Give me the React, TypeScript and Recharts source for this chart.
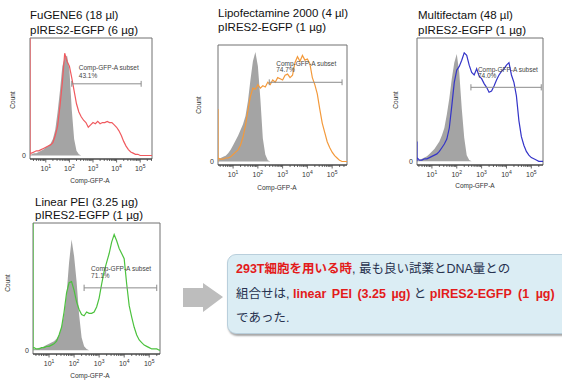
import React from "react";
import {
  ComposedChart,
  Area,
  Line,
  XAxis,
  YAxis,
  ReferenceLine,
  ReferenceArea,
} from "recharts";

// log10(Comp-GFP-A) positions shared by every histogram
const GRID = [
  0.4, 0.5, 0.6, 0.7, 0.8, 0.9, 1.0, 1.1, 1.2, 1.3, 1.4, 1.5, 1.6, 1.7, 1.8, 1.9, 2.0, 2.1,
  2.2, 2.3, 2.4, 2.5, 2.6, 2.7, 2.8, 2.9, 3.0, 3.1, 3.2, 3.3, 3.4, 3.5, 3.6, 3.7, 3.8, 3.9,
  4.0, 4.1, 4.2, 4.3, 4.4, 4.5, 4.6, 4.7, 4.8, 4.9, 5.0, 5.1, 5.2, 5.3, 5.4, 5.5, 5.6,
];
const MAJOR_TICKS = [1, 2, 3, 4, 5];
const MINOR_STEPS = [2, 3, 4, 5, 6, 7, 8, 9];

// FuGENE6
const FUGENE_CONTROL = [
  1, 2, 2, 3, 4, 5, 7, 8, 10, 14, 22, 37, 55, 76, 83, 85, 73, 39, 14, 4, 1, 0, 0, 0, 0, 0, 0,
  0, 0, 0, 0, 0, 0, 0, 0, 0, 0, 0, 0, 0, 0, 0, 0, 0, 0, 0, 0, 0, 0, 0, 0, 0, 0,
];
const FUGENE_SAMPLE = [
  2, 3, 4, 4, 5, 6, 7, 8, 9, 11, 17, 25, 42, 62, 87, 80, 76, 66, 55, 44, 37, 33, 30, 28, 24,
  26, 28, 27, 29, 27, 28, 28, 29, 28, 28, 26, 24, 21, 17, 12, 8, 5, 3, 2, 1, 1, 0, 0, 0, 0, 0,
  0, 0,
];

// Lipofectamine 2000
const LIPO_CONTROL = [
  2, 3, 4, 5, 7, 10, 14, 18, 22, 27, 32, 39, 52, 70, 86, 94, 82, 54, 20, 6, 1, 0, 0, 0, 0, 0,
  0, 0, 0, 0, 0, 0, 0, 0, 0, 0, 0, 0, 0, 0, 0, 0, 0, 0, 0, 0, 0, 0, 0, 0, 0, 0, 0,
];
const LIPO_SAMPLE = [
  3, 2, 2, 3, 3, 4, 6, 8, 10, 14, 21, 31, 44, 56, 63, 62, 66, 63, 65, 64, 68, 66, 70, 68, 72,
  71, 70, 74, 75, 72, 74, 85, 90, 86, 91, 87, 88, 84, 72, 66, 58, 45, 33, 25, 17, 12, 8, 5, 3,
  1, 0, 0, 0,
];

// Multifectam
const MULTI_CONTROL = [
  1, 1, 2, 3, 4, 6, 8, 10, 13, 16, 21, 27, 38, 51, 67, 80, 87, 72, 43, 19, 5, 1, 0, 0, 0, 0,
  0, 0, 0, 0, 0, 0, 0, 0, 0, 0, 0, 0, 0, 0, 0, 0, 0, 0, 0, 0, 0, 0, 0, 0, 0, 0, 0,
];
const MULTI_SAMPLE = [
  3, 1, 1, 2, 2, 3, 4, 5, 6, 8, 11, 14, 18, 27, 45, 64, 74, 77, 82, 88, 86, 78, 72, 70, 75, 69,
  67, 63, 60, 56, 57, 61, 66, 70, 73, 75, 78, 80, 70, 64, 53, 33, 20, 13, 8, 5, 3, 2, 1, 0, 0,
  0, 0,
];

// Linear PEI
const PEI_CONTROL = [
  1, 1, 2, 2, 3, 4, 5, 6, 7, 9, 12, 18, 28, 44, 69, 87, 74, 54, 28, 10, 3, 1, 0, 0, 0, 0, 0,
  0, 0, 0, 0, 0, 0, 0, 0, 0, 0, 0, 0, 0, 0, 0, 0, 0, 0, 0, 0, 0, 0, 0, 0, 0, 0,
];
const PEI_SAMPLE = [
  2, 1, 1, 2, 2, 3, 3, 4, 5, 7, 12, 18, 30, 45, 53, 54, 47, 38, 32, 28, 27, 30, 29, 29, 30,
  34, 41, 52, 62, 69, 76, 85, 91, 86, 80, 76, 72, 52, 35, 26, 18, 12, 8, 6, 4, 3, 2, 1, 1, 1,
  0, 0, 0,
];

const Y_DOMAIN: [number, number] = [-3, 100];

interface Gate {
  x1: number;
  x2: number;
  y: number;
  pct: string;
  dy1: number;
  dy2: number;
}

interface PanelProps {
  titles: string[];
  titlePos: { left: number; top: number; lh: number };
  frame: { left: number; top: number; width: number; height: number };
  domain: [number, number];
  control: number[];
  sample: number[];
  spike: number;
  color: string;
  gate: Gate;
  countPos: { x: number; y: number };
  xLabelPos: { x: number; y: number };
}

function LogTick(props: any) {
  const { x, y, payload } = props;
  const v = payload.value;
  const major = Number.isInteger(v);
  return (
    <g>
      <line x1={x} x2={x} y1={y} y2={y + (major ? 3.5 : 2)} stroke="#444" strokeWidth={0.8} />
      {major && (
        <text x={x} y={y + 12} textAnchor="middle" fontSize={7} fill="#333">
          10
          <tspan dy={-3.5} fontSize={5}>
            {v}
          </tspan>
        </text>
      )}
    </g>
  );
}

function Histogram(p: PanelProps) {
  const { frame, domain, gate } = p;
  const data = [
    { x: domain[0], control: 0, sample: 0 },
    { x: domain[0], control: 0, sample: p.spike },
    { x: domain[0], control: 0, sample: p.sample[0] },
    ...GRID.map((x, i) => ({ x, control: p.control[i], sample: p.sample[i] })),
  ];

  const minor: number[] = [];
  [0, 1, 2, 3, 4, 5].forEach((d) =>
    MINOR_STEPS.forEach((k) => minor.push(d + Math.log10(k)))
  );
  const ticks = [...MAJOR_TICKS, ...minor].filter((t) => t > domain[0] && t < domain[1]);

  const gateLabel = (lp: any) => {
    const vb = lp.viewBox;
    return (
      <g fontSize={6.5} fill="#444">
        <text x={vb.x + 7} y={vb.y + gate.dy1}>
          Comp-GFP-A subset
        </text>
        <text x={vb.x + 7} y={vb.y + gate.dy2}>
          {gate.pct}
        </text>
      </g>
    );
  };

  return (
    <>
      {p.titles.map((t, i) => (
        <div
          key={t}
          style={{
            position: "absolute",
            left: p.titlePos.left,
            top: p.titlePos.top + i * p.titlePos.lh,
            fontSize: 11.5,
            lineHeight: `${p.titlePos.lh}px`,
            whiteSpace: "nowrap",
            color: "#111",
          }}
        >
          {t}
        </div>
      ))}
      <div
        style={{
          position: "absolute",
          left: p.countPos.x,
          top: p.countPos.y,
          fontSize: 6.5,
          color: "#333",
          transform: "translate(-50%, -50%) rotate(-90deg)",
        }}
      >
        Count
      </div>
      <div
        style={{
          position: "absolute",
          left: p.xLabelPos.x,
          top: p.xLabelPos.y,
          fontSize: 6.5,
          color: "#333",
          whiteSpace: "nowrap",
          transform: "translate(-50%, -50%)",
        }}
      >
        Comp-GFP-A
      </div>
      <div style={{ position: "absolute", left: frame.left - 30, top: frame.top - 4 }}>
        <ComposedChart
          width={frame.width + 34}
          height={frame.height + 24}
          data={data}
          margin={{ top: 4, right: 4, bottom: 0, left: 0 }}
        >
          <ReferenceArea
            x1={domain[0]}
            x2={domain[1]}
            y1={Y_DOMAIN[0]}
            y2={Y_DOMAIN[1]}
            fill="none"
            stroke="#707070"
            strokeWidth={1}
            fillOpacity={0}
          />
          <XAxis
            type="number"
            dataKey="x"
            domain={domain}
            allowDataOverflow
            ticks={ticks}
            interval={0}
            tick={(tp: any) => <LogTick {...tp} />}
            tickLine={false}
            tickSize={0}
            tickMargin={0}
            height={20}
            axisLine={{ stroke: "#333" }}
          />
          <YAxis
            type="number"
            domain={Y_DOMAIN}
            allowDataOverflow
            ticks={[0]}
            width={30}
            tickLine={false}
            axisLine={false}
            tickSize={0}
            tickMargin={4}
            tick={{ fontSize: 7, fill: "#333" }}
          />
          <Area
            dataKey="control"
            type="linear"
            stroke="none"
            fill="#a4a4a4"
            fillOpacity={1}
            isAnimationActive={false}
          />
          <Line
            dataKey="sample"
            type="linear"
            stroke={p.color}
            strokeWidth={1.2}
            dot={false}
            isAnimationActive={false}
          />
          <ReferenceLine
            segment={[
              { x: gate.x1, y: gate.y },
              { x: gate.x2, y: gate.y },
            ]}
            stroke="#8c8c8c"
            strokeWidth={1}
            label={gateLabel}
          />
          <ReferenceLine
            segment={[
              { x: gate.x1, y: gate.y - 2.5 },
              { x: gate.x1, y: gate.y + 2.5 },
            ]}
            stroke="#8c8c8c"
          />
          <ReferenceLine
            segment={[
              { x: gate.x2, y: gate.y - 2.5 },
              { x: gate.x2, y: gate.y + 2.5 },
            ]}
            stroke="#8c8c8c"
          />
        </ComposedChart>
      </div>
    </>
  );
}

const PANELS: PanelProps[] = [
  {
    titles: ["FuGENE6 (18 µl)", "pIRES2-EGFP (6 µg)"],
    titlePos: { left: 30, top: 8, lh: 14.5 },
    frame: { left: 30, top: 38, width: 122, height: 121 },
    domain: [0.33, 5.5],
    control: FUGENE_CONTROL,
    sample: FUGENE_SAMPLE,
    spike: 100,
    color: "#f05a5f",
    gate: { x1: 2.1, x2: 5.04, y: 61, pct: "43.1%", dy1: -14, dy2: -6 },
    countPos: { x: 12, y: 100 },
    xLabelPos: { x: 90, y: 180 },
  },
  {
    titles: ["Lipofectamine 2000 (4 µl)", "pIRES2-EGFP (1 µg)"],
    titlePos: { left: 218, top: 6, lh: 14 },
    frame: { left: 218, top: 45, width: 129, height: 120 },
    domain: [0.39, 5.6],
    control: LIPO_CONTROL,
    sample: LIPO_SAMPLE,
    spike: 45,
    color: "#f39a3c",
    gate: { x1: 2.46, x2: 5.4, y: 68, pct: "74.7%", dy1: -16, dy2: -10 },
    countPos: { x: 198, y: 105 },
    xLabelPos: { x: 277, y: 187 },
  },
  {
    titles: ["Multifectam (48 µl)", "pIRES2-EGFP (1 µg)"],
    titlePos: { left: 418, top: 8, lh: 14.5 },
    frame: { left: 417, top: 38, width: 126, height: 127 },
    domain: [0.4, 5.47],
    control: MULTI_CONTROL,
    sample: MULTI_SAMPLE,
    spike: 16,
    color: "#3434c8",
    gate: { x1: 2.57, x2: 5.4, y: 60, pct: "74.0%", dy1: -15, dy2: -9 },
    countPos: { x: 395, y: 100 },
    xLabelPos: { x: 475, y: 185 },
  },
  {
    titles: ["Linear PEI (3.25 µg)", "pIRES2-EGFP (1 µg)"],
    titlePos: { left: 35, top: 195.5, lh: 13 },
    frame: { left: 33, top: 223, width: 127, height: 131 },
    domain: [0.36, 5.43],
    control: PEI_CONTROL,
    sample: PEI_SAMPLE,
    spike: 100,
    color: "#4cc23e",
    gate: { x1: 2.4, x2: 5.3, y: 49, pct: "71.1%", dy1: -17, dy2: -9.5 },
    countPos: { x: 7, y: 283 },
    xLabelPos: { x: 90, y: 375 },
  },
];

const RED = "#e31b1b";
const INK = "#27324f";

export default function App() {
  return (
    <div
      style={{
        position: "absolute",
        left: 0,
        top: 0,
        width: 562,
        height: 384,
        overflow: "hidden",
        background: "#fff",
        fontFamily: "'Liberation Sans', Arial, sans-serif",
      }}
    >
      {PANELS.map((p) => (
        <Histogram key={p.titles[0]} {...p} />
      ))}

      <svg style={{ position: "absolute", left: 180, top: 278 }} width={50} height={40}>
        <polygon points="3,10 23,10 23,5 43,19 23,34 23,29 3,29" fill="#bdbdbd" />
      </svg>

      <div
        style={{
          position: "absolute",
          left: 227,
          top: 254,
          width: 360,
          height: 80,
          boxSizing: "border-box",
          background: "#dbedf4",
          border: "1px solid #b9cfdc",
          borderRadius: 9,
          boxShadow: "1px 2px 2px rgba(0,0,0,0.35)",
          padding: "2px 0 0 8px",
          fontFamily: "'Liberation Sans', 'Noto Sans CJK JP', sans-serif",
          fontSize: 12.5,
          lineHeight: "24.5px",
          color: INK,
          whiteSpace: "nowrap",
        }}
      >
        <div>
          <span style={{ color: RED, fontWeight: "bold" }}>293T細胞を用いる時</span>, 最も良い試薬とDNA量との
        </div>
        <div>
          組合せは,{" "}
          <span style={{ color: RED, fontWeight: "bold", wordSpacing: 2 }}>linear PEI (3.25 µg)</span> と{" "}
          <span style={{ color: RED, fontWeight: "bold", wordSpacing: 3 }}>pIRES2-EGFP (1 µg)</span>
        </div>
        <div>であった.</div>
      </div>
    </div>
  );
}
